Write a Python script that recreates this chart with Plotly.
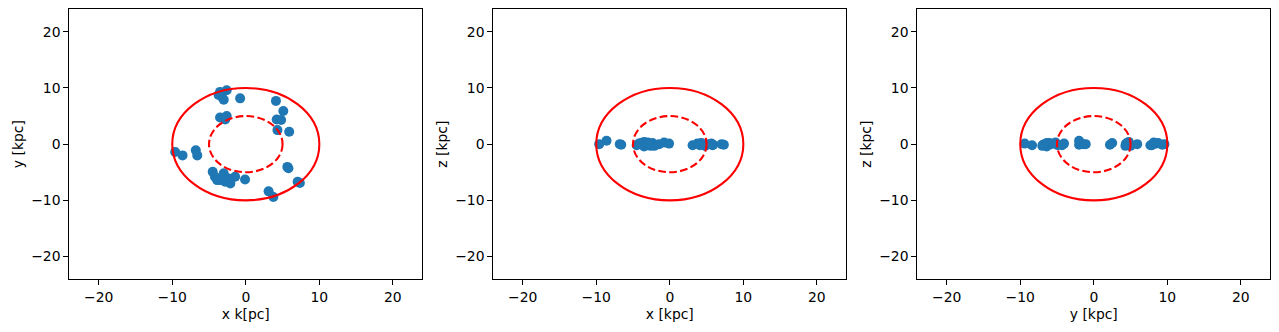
import plotly.graph_objects as go

# Star positions (kpc)
x_kpc = [-3.25, -2.6, -3.0, -3.7, -3.5, -0.77, 4.1, 5.1, 4.2, 4.8, 4.3, 5.9,
         -3.5, -2.6, -2.8, -9.6, -8.6, -6.8, -6.6, -4.5, -4.2, -3.5, -3.0, -2.35,
         -2.1, -1.45, -0.1, -3.9, -2.8, 5.65, 5.8, 7.05, 7.35, 3.1, 3.75]
y_kpc = [8.45, 9.6, 7.9, 8.75, 9.3, 8.15, 7.7, 5.9, 4.4, 4.3, 2.5, 2.2,
         4.75, 5.0, 4.4, -1.4, -2.0, -1.1, -2.0, -4.9, -5.8, -6.4, -5.2, -6.1,
         -7.0, -5.8, -6.3, -6.4, -6.7, -4.05, -4.3, -6.7, -6.9, -8.4, -9.4]
z_kpc = [0.1, 0.0, -0.2, 0.2, -0.1, 0.3, -0.2, 0.0, 0.1, -0.3, 0.2, -0.1,
         0.4, -0.3, 0.0, 0.0, 0.6, 0.0, -0.1, -0.2, 0.1, -0.4, 0.3, 0.2,
         -0.3, 0.0, 0.1, 0.2, -0.1, 0.1, -0.2, 0.0, -0.1, -0.2, 0.1]

ring_radii = [10, 5]
ring_dash = ["solid", "7.7px,3.3px"]
axis_range = [-24, 24]
tick_vals = [-20, -10, 0, 10, 20]

panels = [
    (x_kpc, y_kpc, "x k[pc]", "y [kpc]"),
    (x_kpc, z_kpc, "x [kpc]", "z [kpc]"),
    (y_kpc, z_kpc, "y [kpc]", "z [kpc]"),
]

W, H = 1279, 332
x_domains = [[69.3 / W, 422.3 / W], [493.3 / W, 846.3 / W], [917.3 / W, 1270.3 / W]]
y_domain = [1 - 279 / H, 1 - 9.3 / H]

fig = go.Figure()
font = dict(family="DejaVu Sans", size=13.9, color="black")

shapes = []
for i, (px, py, xt, yt) in enumerate(panels):
    n = "" if i == 0 else str(i + 1)
    fig.add_trace(go.Scatter(
        x=px, y=py, mode="markers", xaxis="x" + n, yaxis="y" + n,
        marker=dict(color="#1f77b4", size=10, line=dict(width=0)),
        showlegend=False, hoverinfo="skip",
    ))
    common = dict(
        range=axis_range, tickvals=tick_vals, showgrid=False, zeroline=False,
        showline=True, mirror=True, linecolor="black", linewidth=1,
        ticks="outside", ticklen=5, tickwidth=1, tickcolor="black",
        tickfont=font, automargin=False,
    )
    fig.layout["xaxis" + n] = dict(
        common, domain=x_domains[i], anchor="y" + n,
        title=dict(text=xt, font=font, standoff=5),
    )
    fig.layout["yaxis" + n] = dict(
        common, domain=y_domain, anchor="x" + n,
        title=dict(text=yt, font=font, standoff=4),
    )
    for r, d in zip(ring_radii, ring_dash):
        shapes.append(dict(
            type="circle", xref="x" + n, yref="y" + n,
            x0=-r, x1=r, y0=-r, y1=r,
            line=dict(color="red", width=2.08, dash=d), layer="above",
        ))

fig.update_layout(
    width=W, height=H, margin=dict(l=0, r=0, t=0, b=0),
    paper_bgcolor="white", plot_bgcolor="white", font=font,
    shapes=shapes, hovermode=False,
)
fig.write_html("out.html", config={"displayModeBar": False},
               post_script="document.body.style.margin='0';")
